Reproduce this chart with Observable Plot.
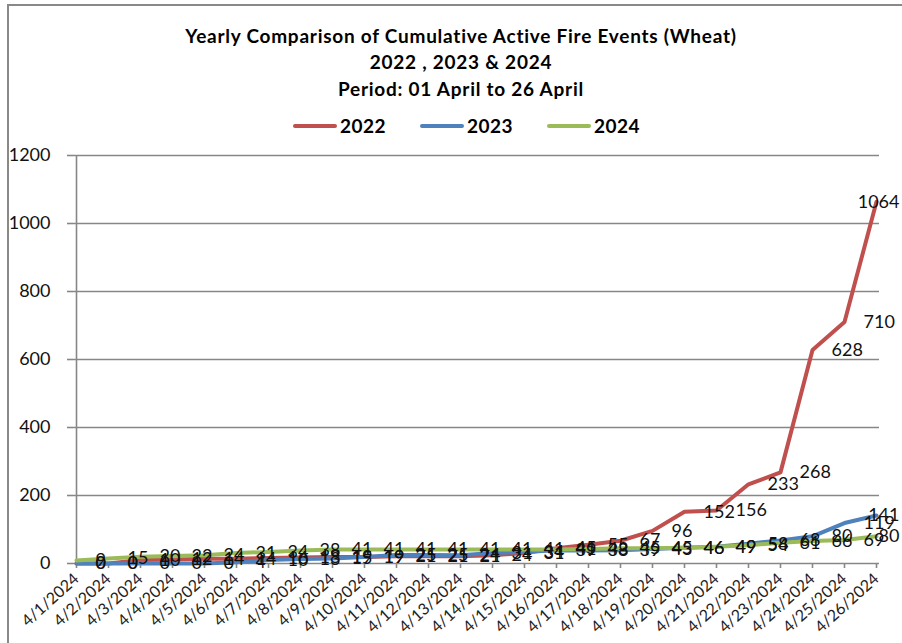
<!DOCTYPE html>
<html>
<head>
<meta charset="utf-8">
<script src="https://cdn.jsdelivr.net/npm/d3@7"></script>
<script src="https://cdn.jsdelivr.net/npm/@observablehq/plot@0.6"></script>
<style>
  html, body { margin: 0; padding: 0; background: #fff; }
  #wrap { position: relative; width: 902px; height: 643px; overflow: hidden; font-family: Lato, "Open Sans", sans-serif; }
  #border { position: absolute; left: 7px; top: 4px; width: 1000px; height: 1000px; border: 2px solid #898989; box-sizing: border-box; }
  .title { position: absolute; left: 0; width: 922px; text-align: center; font-weight: bold; font-size: 19px; letter-spacing: 0.75px; color: #000; white-space: nowrap; }
  #legend { position: absolute; top: 114px; left: 0; width: 902px; height: 24px; }
  .lg { position: absolute; top: 0; display: flex; align-items: center; font-weight: bold; font-size: 19px; letter-spacing: 0.5px; color: #000; }
  .sw { display: inline-block; width: 44px; height: 4px; border-radius: 2px; margin-right: 3px; }
  #chart { position: absolute; left: 0; top: 0; }
</style>
</head>
<body>
<div id="wrap">
  <div id="chart"></div>
  <div id="border"></div>
  <div class="title" id="t1" style="top:24px">Yearly Comparison of Cumulative Active Fire Events (Wheat)</div>
  <div class="title" id="t2" style="top:50px">2022 , 2023 &amp; 2024</div>
  <div class="title" id="t3" style="top:77px">Period: 01 April to 26 April</div>
  <div id="legend"></div>
</div>
<script>
const dates = ["4/1/2024","4/2/2024","4/3/2024","4/4/2024","4/5/2024","4/6/2024","4/7/2024","4/8/2024","4/9/2024","4/10/2024","4/11/2024","4/12/2024","4/13/2024","4/14/2024","4/15/2024","4/16/2024","4/17/2024","4/18/2024","4/19/2024","4/20/2024","4/21/2024","4/22/2024","4/23/2024","4/24/2024","4/25/2024","4/26/2024"];
const values2022 = [0, 0, 10, 12, 14, 14, 16, 18, 19, 19, 21, 21, 21, 24, 31, 45, 55, 67, 96, 152, 156, 233, 268, 628, 710, 1064];
const values2023 = [0, 0, 0, 0, 0, 4, 10, 13, 15, 19, 25, 25, 24, 31, 34, 39, 38, 39, 43, 46, 49, 58, 68, 80, 119, 141];
const values2024 = [9, 15, 20, 22, 24, 31, 34, 38, 41, 41, 41, 41, 41, 41, 41, 41, 43, 45, 45, 46, 49, 54, 61, 66, 69, 80];
const seriesNames = ["2022", "2023", "2024"];
const seriesColors = ["#C0504D", "#4F81BD", "#9BBB59"];
const yTicks = [0, 200, 400, 600, 800, 1000, 1200];

const seriesValues = [values2022, values2023, values2024];
const data = [];
seriesNames.forEach((s, si) => {
  dates.forEach((d, i) => data.push({series: s, date: d, value: seriesValues[si][i]}));
});
const lastDate = dates[dates.length - 1];
const gray = "#878787";

const chart = Plot.plot({
  width: 902,
  height: 643,
  marginLeft: 73,
  marginRight: 23,
  marginTop: 155,
  marginBottom: 80,
  style: {fontFamily: "Lato, 'Open Sans', sans-serif", background: "transparent", overflow: "visible"},
  x: {type: "point", domain: dates, padding: 0, label: null},
  y: {domain: [0, 1200], label: null},
  color: {domain: seriesNames, range: seriesColors},
  marks: [
    Plot.ruleY(yTicks, {stroke: gray, strokeWidth: 1.6}),
    Plot.ruleX([dates[0]], {y1: 0, y2: 1200, stroke: gray, strokeWidth: 1.6}),
    Plot.axisY({ticks: yTicks, tickFormat: d => String(d), tickSize: 6, tickPadding: 17, fontSize: 18, stroke: gray, strokeWidth: 1.6, fill: "#111", label: null}),
    Plot.axisX({tickSize: 5, tickPadding: 8, tickRotate: -42, fontSize: 16, stroke: gray, strokeWidth: 1.6, fill: "#222", label: null}),
    Plot.line(data, {x: "date", y: "value", z: "series", stroke: "series", strokeWidth: 4, strokeLinejoin: "round"}),
    Plot.text(data.filter(d => d.date !== lastDate), {x: "date", y: "value", text: d => String(d.value), dx: 19, textAnchor: "start", fontSize: 18, fill: "#111"}),
    Plot.text(data.filter(d => d.date === lastDate), {x: "date", y: "value", text: d => String(d.value), dx: 23, textAnchor: "end", fontSize: 18, fill: "#111"})
  ]
});
document.getElementById("chart").appendChild(chart);

// legend
const legend = document.getElementById("legend");
const legendLeft = [293, 420, 547];
seriesNames.forEach((s, i) => {
  const item = document.createElement("div");
  item.className = "lg";
  item.style.left = legendLeft[i] + "px";
  const sw = document.createElement("span");
  sw.className = "sw";
  sw.style.background = seriesColors[i];
  item.appendChild(sw);
  const t = document.createElement("span");
  t.textContent = s;
  item.appendChild(t);
  legend.appendChild(item);
});
</script>
</body>
</html>
